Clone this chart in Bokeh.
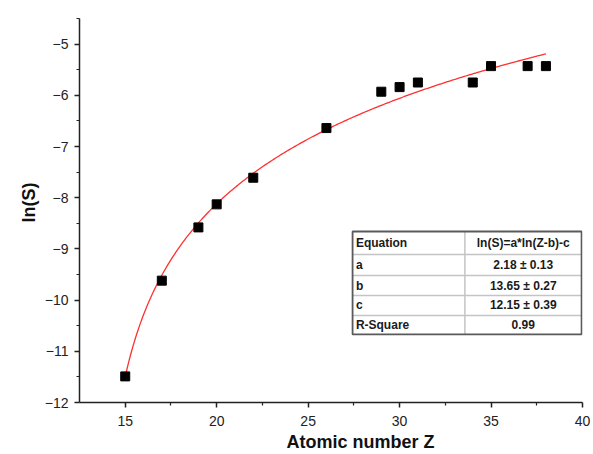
import numpy as np
from bokeh.plotting import figure
from bokeh.models import Range1d, FixedTicker, Title, ColumnDataSource
from bokeh.core.properties import value
from bokeh.embed import file_html
from bokeh.resources import INLINE

# ---- data ----
atomic_z = [15, 17, 19, 20, 22, 26, 29, 30, 31, 34, 35, 37, 38]
ln_s = [-11.49, -9.62, -8.58, -8.13, -7.61, -6.64, -5.93, -5.84, -5.75, -5.75, -5.43, -5.43, -5.43]

# fit parameters shown in the chart: ln(S) = a*ln(Z-b) - c
fit_a = 2.18
fit_b = 13.65
fit_c = 12.15
fit_z_start = 15
fit_z_end = 38

x_ticks = [15, 20, 25, 30, 35, 40]
y_ticks = [-12, -11, -10, -9, -8, -7, -6, -5]

table_col1 = ["Equation", "a", "b", "c", "R-Square"]
table_col2 = ["ln(S)=a*ln(Z-b)-c", "2.18 \u00b1 0.13", "13.65 \u00b1 0.27", "12.15 \u00b1 0.39", "0.99"]

FONT = "Liberation Sans"

p = figure(width=593, height=454, output_backend="svg", toolbar_location=None,
           x_range=Range1d(12.5, 40), y_range=Range1d(-12, -4.5),
           min_border_left=79, min_border_right=11, min_border_top=18, min_border_bottom=52)
p.outline_line_color = None
p.xgrid.visible = False
p.ygrid.visible = False
p.background_fill_color = "white"
p.border_fill_color = "white"

for ax in (p.xaxis[0], p.yaxis[0]):
    ax.axis_line_width = 1.5
    ax.axis_line_color = "#222222"
    ax.major_tick_line_width = 1.5
    ax.minor_tick_line_width = 1.2
    ax.major_tick_line_color = "#222222"
    ax.minor_tick_line_color = "#222222"
    ax.major_tick_out = 5
    ax.major_tick_in = 0
    ax.minor_tick_out = 3
    ax.minor_tick_in = 0
    ax.major_label_text_font = FONT
    ax.major_label_text_font_size = "14px"
    ax.major_label_text_color = "#222222"

p.xaxis[0].ticker = FixedTicker(ticks=x_ticks,
                                minor_ticks=[t + 2.5 for t in x_ticks[:-1]])
p.yaxis[0].ticker = FixedTicker(ticks=y_ticks,
                                minor_ticks=[t + 0.5 for t in y_ticks])
p.xaxis[0].major_label_standoff = 8
p.yaxis[0].major_label_standoff = 6

ytitle = Title(text="ln(S)", align="left", offset=180,
               text_font=FONT, text_font_size="18px", text_font_style="bold",
               text_color="#111111", standoff=6)
p.add_layout(ytitle, "left")

xtitle = Title(text="Atomic number Z", align="left", offset=207,
               text_font=FONT, text_font_size="18px", text_font_style="bold",
               text_color="#111111", standoff=2)
p.add_layout(xtitle, "below")

# fit curve (from the chart's fit parameters)
zf = np.linspace(fit_z_start, fit_z_end, 300)
p.line(zf, fit_a * np.log(zf - fit_b) - fit_c, line_color="#ff3030", line_width=1.3)

# data points
p.scatter(atomic_z, ln_s, marker="square", size=9, fill_color="black",
          line_color="black", line_width=1)

# ---- fit results table (layout in data units) ----
tbl_left, tbl_mid, tbl_right = 27.43, 33.57, 39.95
row_edges = [-8.66, -9.11, -9.52, -9.91, -10.30, -10.67]

# inner lines
p.segment(x0=[tbl_left] * 4, y0=row_edges[1:5], x1=[tbl_right] * 4, y1=row_edges[1:5],
          line_color="#c4c4c4", line_width=1.5)
p.segment(x0=[tbl_mid], y0=[row_edges[0]], x1=[tbl_mid], y1=[row_edges[-1]],
          line_color="#c4c4c4", line_width=1.5)
# outer border
p.quad(left=[tbl_left], right=[tbl_right], top=[row_edges[0]], bottom=[row_edges[-1]],
       fill_color=None, line_color="#5a5a5a", line_width=1.8)

row_centers = [(row_edges[i] + row_edges[i + 1]) / 2 for i in range(5)]
src1 = ColumnDataSource(dict(x=[tbl_left + 0.18] * 5, y=row_centers, t=table_col1))
src2 = ColumnDataSource(dict(x=[(tbl_mid + tbl_right) / 2] * 5, y=row_centers, t=table_col2))
p.text(x="x", y="y", text="t", source=src1, text_font=value(FONT),
       text_font_size="12px", text_font_style="bold", text_color="#1a1a1a",
       text_align="left", text_baseline="middle")
p.text(x="x", y="y", text="t", source=src2, text_font=value(FONT),
       text_font_size="12px", text_font_style="bold", text_color="#1a1a1a",
       text_align="center", text_baseline="middle")

open("out.html", "w").write(file_html(p, INLINE))
